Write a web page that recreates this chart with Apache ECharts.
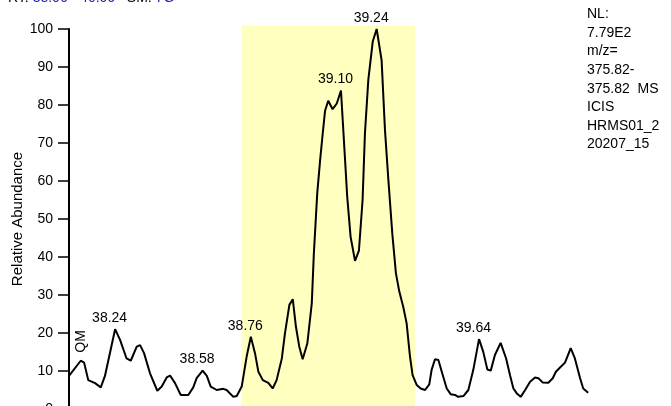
<!DOCTYPE html>
<html>
<head>
<meta charset="utf-8">
<script src="https://cdn.jsdelivr.net/npm/echarts@6/dist/echarts.min.js"></script>
<style>html,body{margin:0;padding:0;background:#fff;}#c{width:671px;height:406px;}</style>
</head>
<body>
<div id="c"></div>
<script>
// Retention time (min) and relative abundance (%)
const rt = [38.060,38.105,38.118,38.134,38.160,38.182,38.198,38.237,38.256,38.281,38.297,38.320,38.333,38.348,38.371,38.399,38.416,38.435,38.448,38.467,38.489,38.518,38.537,38.550,38.573,38.589,38.604,38.627,38.652,38.665,38.691,38.704,38.723,38.742,38.758,38.774,38.787,38.804,38.825,38.842,38.857,38.877,38.889,38.906,38.919,38.931,38.944,38.957,38.975,38.992,39.000,39.013,39.024,39.034,39.043,39.055,39.072,39.088,39.104,39.116,39.128,39.141,39.158,39.173,39.187,39.196,39.209,39.226,39.241,39.260,39.273,39.286,39.301,39.315,39.328,39.343,39.356,39.369,39.379,39.395,39.410,39.427,39.443,39.452,39.465,39.478,39.491,39.510,39.525,39.542,39.554,39.574,39.593,39.612,39.634,39.650,39.666,39.679,39.695,39.717,39.738,39.753,39.766,39.779,39.794,39.811,39.830,39.849,39.862,39.878,39.900,39.917,39.929,39.945,39.964,39.986,40.002,40.022,40.034,40.053];
const abundance = [8.7,12.7,12.2,7.6,6.8,5.7,8.7,21.0,18.2,13.3,12.7,16.4,16.8,14.7,9.4,4.8,5.9,8.3,8.8,6.8,3.7,3.7,5.7,8.1,10.1,8.7,5.9,5.0,5.3,5.0,3.2,3.4,5.9,13.8,19.0,14.7,9.8,7.6,6.9,5.4,7.6,13.3,19.9,27.4,28.9,21.7,16.4,13.1,17.3,27.8,41.0,56.8,65.5,72.5,78.5,81.1,78.9,80.4,83.8,69.9,55.9,45.3,39.0,41.7,55.0,72.5,86.6,96.7,100,91.8,73.4,60.3,46.2,35.7,30.9,26.9,22.6,13.8,8.9,6.3,5.4,5.0,6.5,10.3,13.1,12.9,9.8,5.4,3.9,3.7,3.2,3.4,5.0,10.3,18.4,15.1,10.4,10.1,14.2,17.4,13.3,8.9,5.4,4.1,3.2,5.0,7.2,8.3,8.1,7.0,6.9,8.1,9.8,10.9,12.2,16.0,13.3,8.1,5.4,4.3];

// Peak annotations
const peakRT = [38.237, 38.573, 38.758, 39.104, 39.241, 39.634];
const peakValue = [21.0, 10.1, 19.0, 83.8, 100, 18.4];
const peakLabels = ['38.24', '38.58', '38.76', '39.10', '39.24', '39.64'];
const qmRT = [38.105];
const qmValue = [12.7];

// Highlighted RT window
const highlightRange = [38.722, 39.388];
const highlightTop = 101;

const infoLines = ['NL:', '7.79E2', 'm/z=', '375.82-', '375.82  MS', 'ICIS', 'HRMS01_2', '20207_15'];

const FONT = 'Liberation Sans, Arial, sans-serif';
const chart = echarts.init(document.getElementById('c'));

const lineData = rt.map((t, i) => [t, abundance[i]]);
const peakData = peakRT.map((t, i) => ({ value: [t, peakValue[i]], name: peakLabels[i] }));

chart.setOption({
  animation: false,
  backgroundColor: '#ffffff',
  grid: [
    { left: 69, top: 29, width: 521, height: 380, containLabel: false, outerBoundsMode: 'none' },
    { left: 69, top: 29 - 3.8 * (highlightTop - 100), width: 521, height: 3.8 * highlightTop, containLabel: false, outerBoundsMode: 'none' }
  ],
  xAxis: [
    { type: 'value', min: 38.06, max: 40.06, show: false, gridIndex: 0 },
    { type: 'value', min: 38.06, max: 40.06, show: false, gridIndex: 1 }
  ],
  yAxis: [
    {
      type: 'value', min: 0, max: 100, interval: 10, gridIndex: 0,
      name: 'Relative Abundance', nameLocation: 'middle', nameGap: 44, nameMoveOverlap: false,
      nameTextStyle: { fontFamily: FONT, fontSize: 15, color: '#000' },
      axisLine: { show: true, lineStyle: { color: '#000', width: 2 } },
      axisTick: { show: true, length: 11, lineStyle: { color: '#000', width: 1.5 } },
      axisLabel: { fontFamily: FONT, fontSize: 14, color: '#000', margin: 16 },
      splitLine: { show: false }
    },
    { type: 'value', min: 0, max: highlightTop, show: false, gridIndex: 1 }
  ],
  series: [
    {
      type: 'line', xAxisIndex: 1, yAxisIndex: 1, data: [], silent: true, z: 1,
      markArea: {
        silent: true,
        itemStyle: { color: '#FFFFBF', opacity: 1 },
        data: [[{ coord: [highlightRange[0], 0] }, { coord: [highlightRange[1], highlightTop] }]]
      }
    },
    {
      type: 'line', data: lineData, showSymbol: false, symbol: 'none', z: 3,
      lineStyle: { color: '#000', width: 2 }, clip: false
    },
    {
      type: 'scatter', data: peakData, symbolSize: 0, z: 4, itemStyle: { opacity: 1 },
      label: {
        show: true, position: 'top', distance: 4, offset: [-5.5, 0],
        formatter: p => p.name, fontFamily: FONT, fontSize: 14, color: '#000', opacity: 1
      }
    },
    {
      type: 'scatter', data: qmRT.map((t, i) => [t, qmValue[i]]), symbolSize: 0, z: 4, itemStyle: { opacity: 1 },
      label: {
        show: true, position: 'top', distance: 8, rotate: 90, align: 'left', verticalAlign: 'middle',
        formatter: 'QM', fontFamily: FONT, fontSize: 14, color: '#000', opacity: 1
      }
    }
  ],
  graphic: [
    {
      type: 'text', left: 587, top: 5,
      style: {
        text: infoLines.join('\n'), fontFamily: FONT, fontSize: 14, lineHeight: 18.6, fill: '#000'
      }
    },
    {
      type: 'text', x: 8, y: -9,
      style: {
        text: 'RT: {b|38.06 - 40.06}   SM: {b|7G}',
        fontFamily: FONT, fontSize: 14, fill: '#000',
        rich: { b: { fill: '#1a1aa8', fontFamily: FONT, fontSize: 14 } }
      }
    }
  ]
});
</script>
</body>
</html>
